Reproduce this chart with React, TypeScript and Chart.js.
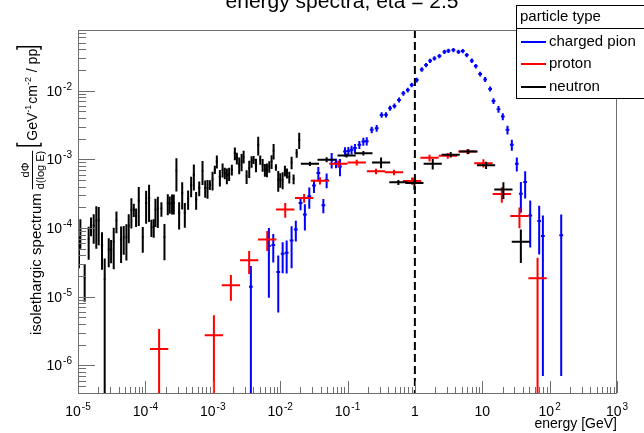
import React, { useEffect, useRef } from "react";
import { Chart, registerables } from "chart.js";

Chart.register(...registerables);

const FONT = '"Liberation Sans", Arial, Helvetica, sans-serif';

// ---------- axis ranges / ticks ----------
const X_MIN = 1e-5;
const X_MAX = 1e3;
const Y_MIN = 3.95e-7;
const Y_MAX = 0.0765;
const xTickExponents = [-5, -4, -3, -2, -1, 0, 1, 2, 3];
const yTickExponents = [-6, -5, -4, -3, -2];

// ---------- charged pion ----------
const pionEnergy = [
  3.68e-3, 6.81e-3, 7.91e-3, 9.38e-3, 1.09e-2, 1.25e-2, 1.48e-2, 1.71e-2, 2.01e-2, 2.33e-2,
  2.71e-2, 3.18e-2, 3.69e-2, 4.38e-2, 4.9e-2, 5.82e-2, 6.75e-2, 7.73e-2, 9.18e-2, 0.103,
  0.115, 0.129, 0.15, 0.172, 0.193, 0.229, 0.271, 0.321, 0.373, 0.428,
  0.497, 0.582, 0.675, 0.784, 0.897, 1.067, 1.265, 1.466, 1.683, 1.95,
  2.312, 2.748, 3.148, 3.733, 4.436, 5.14, 5.888, 6.998, 8.017, 9.31,
  11.04, 13.09, 14.69, 17.42, 20.18, 23.71, 27.48, 32.58, 37.41, 43.35,
  51.52, 69.98, 79.43, 148.6,
];
const pionValue = [
  1.39e-5, 5.46e-5, 5.64e-5, 2.29e-5, 4.2e-5, 4.37e-5, 6.59e-5, 9.53e-5, 2.32e-4, 1.57e-4,
  2.9e-4, 4.14e-4, 6.31e-4, 2.14e-4, 5.0e-4, 9.86e-4, 8.83e-4, 7.89e-4, 1.3e-3, 1.32e-3,
  1.38e-3, 1.46e-3, 1.63e-3, 1.82e-3, 1.84e-3, 2.69e-3, 2.84e-3, 4.44e-3, 4.46e-3, 5.55e-3,
  6.0e-3, 7.33e-3, 9.16e-3, 1.02e-2, 1.21e-2, 1.43e-2, 2.04e-2, 2.36e-2, 2.73e-2, 2.95e-2,
  3.19e-2, 3.68e-2, 3.81e-2, 3.9e-2, 3.68e-2, 3.77e-2, 3.3e-2, 2.73e-2, 2.28e-2, 1.75e-2,
  1.46e-2, 1.06e-2, 7.08e-3, 5.36e-3, 4.2e-3, 2.69e-3, 1.63e-3, 8.63e-4, 3.16e-4, 4.68e-4,
  1.52e-4, 1.26e-4, 7.62e-5, 7.87e-5,
];
const pionError = [
  1.4e-5, 4.5e-5, 2.5e-5, 1.7e-5, 2.0e-5, 2.2e-5, 4.0e-5, 3.2e-5, 5.0e-5, 6.5e-5,
  1.0e-4, 9.0e-5, 1.4e-4, 5.0e-5, 1.2e-4, 2.5e-4, 1.4e-4, 2.2e-4, 2.0e-4, 1.9e-4,
  2.0e-4, 2.1e-4, 2.2e-4, 2.4e-4, 2.5e-4, 3.0e-4, 3.1e-4, 4.0e-4, 4.0e-4, 4.6e-4,
  5.0e-4, 6.0e-4, 7.2e-4, 8.0e-4, 9.2e-4, 1.1e-3, 1.5e-3, 1.7e-3, 1.9e-3, 2.1e-3,
  2.3e-3, 2.6e-3, 2.7e-3, 2.8e-3, 2.6e-3, 2.7e-3, 2.4e-3, 2.0e-3, 1.7e-3, 1.4e-3,
  1.2e-3, 9.0e-4, 7.0e-4, 6.0e-4, 5.0e-4, 4.0e-4, 3.0e-4, 2.0e-4, 1.5e-4, 2.0e-4,
  1.0e-4, 8.5e-5, 7.55e-5, 7.8e-5,
];
const pionBinHalfDecades = 0.028;

// ---------- proton ----------
const protonEnergy = [
  1.6e-4, 1.04e-3, 1.86e-3, 3.47e-3, 6.44e-3, 1.19e-2, 2.27e-2, 3.9e-2, 7.31e-2, 0.137,
  0.265, 0.49, 0.91, 1.65, 3.08, 6.03, 10.4, 19.5, 35.7, 66.2,
];
const protonValue = [
  1.73e-6, 2.75e-6, 1.47e-5, 3.38e-5, 6.81e-5, 1.86e-4, 2.73e-4, 4.89e-4, 8.63e-4, 9.0e-4,
  6.68e-4, 6.46e-4, 4.85e-4, 1.05e-3, 1.13e-3, 1.3e-3, 8.8e-4, 3.13e-4, 1.49e-4, 1.85e-5,
];
const protonError = [
  1.65e-6, 2.6e-6, 6.0e-6, 1.25e-5, 2.2e-5, 4.5e-5, 4.0e-5, 6.0e-5, 1.0e-4, 9.0e-5,
  6.0e-5, 6.0e-5, 6.0e-5, 1.2e-4, 1.1e-4, 1.1e-4, 1.2e-4, 8.0e-5, 5.0e-5, 1.85e-5,
];
const protonBinHalfDecades = 0.136;

// ---------- neutron (fine binning at low energy) ----------
const neutronFineEnergy = [
  1.035e-5, 1.084e-5, 1.256e-5, 1.44e-5, 1.56e-5, 1.71e-5, 1.87e-5, 2.03e-5, 2.27e-5, 2.49e-5,
  2.86e-5, 3.1e-5, 3.39e-5, 3.72e-5, 4.36e-5, 4.77e-5, 5.23e-5, 5.66e-5, 6.2e-5, 6.73e-5,
  7.28e-5, 7.98e-5, 9.15e-5, 1.026e-4, 1.135e-4, 1.23e-4, 1.33e-4, 1.41e-4, 1.53e-4, 1.73e-4,
  1.92e-4, 2.15e-4, 2.3e-4, 2.49e-4, 2.64e-4, 2.89e-4, 3.17e-4, 3.52e-4, 3.85e-4, 4.31e-4,
  4.78e-4, 5.24e-4, 5.67e-4, 6.3e-4, 7.05e-4, 7.73e-4, 8.36e-4, 9.06e-4, 9.93e-4, 1.074e-3,
  1.15e-3, 1.276e-3, 1.4e-3, 1.51e-3, 1.62e-3, 1.75e-3, 1.92e-3, 2.13e-3, 2.28e-3, 2.47e-3,
  2.68e-3, 2.87e-3, 3.18e-3, 3.48e-3, 3.77e-3, 4.04e-3, 4.38e-3, 4.73e-3, 5.07e-3, 5.5e-3,
  5.94e-3, 6.37e-3, 6.9e-3, 7.47e-3, 8.0e-3, 8.67e-3, 9.38e-3, 1.005e-2, 1.089e-2, 1.178e-2,
  1.262e-2, 1.368e-2, 1.48e-2, 1.585e-2, 1.76e-2, 1.92e-2,
];
const neutronFineValue = [
  5.15e-5, 9.18e-5, 1.89e-5, 6.95e-5, 1.09e-4, 1.09e-4, 1.29e-4, 1.29e-4, 5.57e-5, 1.79e-5,
  4.87e-5, 4.87e-5, 6.3e-5, 1.29e-4, 6.8e-5, 7.36e-5, 7.36e-5, 1.09e-4, 1.85e-4, 1.85e-4,
  1.48e-4, 2.51e-4, 7.36e-5, 2.32e-4, 2.74e-4, 1.03e-4, 1.03e-4, 1.85e-4, 1.92e-4, 1.92e-4,
  7.4e-5, 2.32e-4, 2.24e-4, 2.32e-4, 2.32e-4, 6.9e-4, 1.66e-4, 3.24e-4, 1.66e-4, 2.68e-4,
  4.18e-4, 5.97e-4, 2.59e-4, 3.83e-4, 6.83e-4, 3.83e-4, 3.83e-4, 4.27e-4, 5.06e-4, 7.07e-4,
  9.33e-4, 5.52e-4, 7.07e-4, 6.32e-4, 5.85e-4, 6.18e-4, 7.07e-4, 1.233e-3, 1.043e-3, 8.34e-4,
  9.33e-4, 1.1e-3, 5.65e-4, 7.46e-4, 9.33e-4, 9.86e-4, 8.34e-4, 1.63e-3, 9.86e-4, 8.34e-4,
  7.07e-4, 7.07e-4, 7.89e-4, 9.33e-4, 1.333e-3, 7.63e-4, 5.06e-4, 5.06e-4, 5.06e-4, 6.83e-4,
  6.32e-4, 5.52e-4, 9.02e-4, 5.17e-4, 1.233e-3, 1.92e-3,
];
const neutronFineError = [
  2.55e-5, 4.2e-5, 1.05e-5, 3.5e-5, 3.3e-5, 5.0e-5, 7.9e-5, 7.3e-5, 3.1e-5, 1.8e-5,
  2.2e-5, 1.8e-5, 3.8e-5, 4.5e-5, 3.7e-5, 3.3e-5, 4.0e-5, 4.9e-5, 8.7e-5, 4.0e-5,
  4.5e-5, 1.44e-4, 3.0e-5, 1.17e-4, 1.52e-4, 2.9e-5, 3.1e-5, 8.2e-5, 9.2e-5, 4.6e-5,
  4.0e-5, 7.9e-5, 6.3e-5, 7.5e-5, 7.5e-5, 3.5e-4, 7.1e-5, 1.38e-4, 6.5e-5, 8.4e-5,
  1.38e-4, 2.46e-4, 7.5e-5, 9.4e-5, 2.6e-4, 1.08e-4, 1.16e-4, 6.8e-5, 1.53e-4, 9.6e-5,
  2.0e-4, 1.5e-4, 1.64e-4, 1.2e-4, 1.5e-4, 1.34e-4, 1.28e-4, 2.6e-4, 2.0e-4, 2.3e-4,
  2.6e-4, 2.3e-4, 1.28e-4, 2.1e-4, 1.77e-4, 1.33e-4, 1.86e-4, 4.95e-4, 1.55e-4, 1.77e-4,
  1.5e-4, 1.6e-4, 1.5e-4, 2.1e-4, 3.4e-4, 8.3e-5, 1.7e-4, 1.2e-4, 1.4e-4, 1.2e-4,
  1.05e-4, 1.08e-4, 1.86e-4, 8.5e-5, 1.8e-4, 5.1e-4,
];
const neutronFineBinHalfDecades = 0.017;

// ---------- neutron (coarse binning) ----------
const neutronCoarseEnergy = [
  2.77e-2, 4.9e-2, 9.7e-2, 0.172, 0.315, 0.569, 0.984, 1.84, 3.4, 6.24, 11.4, 20.6, 37.4,
];
const neutronCoarseValue = [
  8.6e-4, 9.9e-4, 1.14e-3, 1.23e-3, 9.0e-4, 4.62e-4, 4.52e-4, 8.6e-4, 1.17e-3, 1.3e-3, 8.2e-4,
  3.65e-4, 6.3e-5,
];
const neutronCoarseError = [
  6.0e-5, 8.0e-5, 8.0e-5, 9.0e-5, 1.6e-4, 4.0e-5, 9.0e-5, 1.5e-4, 1.1e-4, 1.0e-4, 1.0e-4,
  1.0e-4, 3.2e-5,
];
const neutronCoarseBinHalfDecades = 0.135;

const legendEntries = [
  { label: "charged pion", color: "#0000ff" },
  { label: "proton", color: "#ff0000" },
  { label: "neutron", color: "#000000" },
];

function makeDataset(
  label: string,
  energy: number[],
  value: number[],
  error: number[],
  color: string,
  halfDecades: number
) {
  return {
    label,
    data: energy.map((e, i) => ({ x: e, y: value[i], err: error[i] })),
    borderColor: color,
    backgroundColor: color,
    pointRadius: 0,
    pointHoverRadius: 0,
    showLine: false,
    binHalfDecades: halfDecades,
  } as any;
}

function drawPow(
  ctx: CanvasRenderingContext2D,
  exp: number,
  x: number,
  y: number,
  align: "center" | "right"
) {
  const big = `14px ${FONT}`;
  const small = `10px ${FONT}`;
  ctx.textAlign = "left";
  ctx.textBaseline = "alphabetic";
  if (exp === 0 || exp === 1) {
    const txt = exp === 0 ? "1" : "10";
    ctx.font = big;
    const w = ctx.measureText(txt).width;
    const sx = align === "center" ? x - w / 2 : x - w;
    ctx.fillText(txt, sx, y);
    return;
  }
  ctx.font = big;
  const w1 = ctx.measureText("10").width;
  ctx.font = small;
  const sup = String(exp);
  const w2 = ctx.measureText(sup).width;
  const total = w1 + 1 + w2;
  const sx = align === "center" ? x - total / 2 : x - total;
  ctx.font = big;
  ctx.fillText("10", sx, y);
  ctx.font = small;
  ctx.fillText(sup, sx + w1 + 1, y - 6);
}

const errorBarPlugin = {
  id: "errorBars",
  afterDatasetsDraw(chart: any) {
    const { ctx, chartArea } = chart;
    const xs = chart.scales.x;
    const ys = chart.scales.y;
    ctx.save();
    ctx.beginPath();
    ctx.rect(chartArea.left, chartArea.top, chartArea.right - chartArea.left, chartArea.bottom - chartArea.top);
    ctx.clip();
    ctx.lineWidth = 2;
    ctx.lineCap = "butt";
    chart.data.datasets.forEach((ds: any) => {
      const f = Math.pow(10, ds.binHalfDecades);
      ctx.strokeStyle = ds.borderColor;
      ds.data.forEach((p: any) => {
        const px = xs.getPixelForValue(p.x);
        const xl = xs.getPixelForValue(p.x / f);
        const xr = xs.getPixelForValue(p.x * f);
        const py = ys.getPixelForValue(p.y);
        const lo = p.y - p.err;
        const yl = lo > 0 ? ys.getPixelForValue(lo) : chartArea.bottom + 10;
        const yh = ys.getPixelForValue(p.y + p.err);
        ctx.beginPath();
        ctx.moveTo(xl, py);
        ctx.lineTo(xr, py);
        ctx.moveTo(px, yh);
        ctx.lineTo(px, yl);
        ctx.stroke();
      });
    });
    ctx.restore();
  },
  afterDraw(chart: any) {
    const { ctx, chartArea } = chart;
    const xs = chart.scales.x;
    const ys = chart.scales.y;
    const L = chartArea.left;
    const R = chartArea.right;
    const T = chartArea.top;
    const B = chartArea.bottom;

    // dashed line at 1 GeV
    ctx.save();
    ctx.strokeStyle = "#000";
    ctx.lineWidth = 2;
    ctx.setLineDash([8, 4]);
    const x1 = xs.getPixelForValue(1);
    ctx.beginPath();
    ctx.moveTo(x1, T);
    ctx.lineTo(x1, B);
    ctx.stroke();
    ctx.restore();

    // frame
    ctx.save();
    ctx.strokeStyle = "#6e6e6e";
    ctx.lineWidth = 1;
    ctx.strokeRect(L + 0.5, T + 0.5, R - L - 1, B - T);
    ctx.beginPath();
    for (let e = -5; e <= 3; e++) {
      for (let m = 1; m <= 9; m++) {
        const v = m * Math.pow(10, e);
        if (v < X_MIN || v > X_MAX) continue;
        const px = Math.round(xs.getPixelForValue(v)) + 0.5;
        const len = m === 1 ? 12 : 6;
        ctx.moveTo(px, B);
        ctx.lineTo(px, B - len);
      }
    }
    for (let e = -7; e <= -1; e++) {
      for (let m = 1; m <= 9; m++) {
        const v = m * Math.pow(10, e);
        if (v < Y_MIN || v > Y_MAX) continue;
        const py = Math.round(ys.getPixelForValue(v)) + 0.5;
        const len = m === 1 ? 17 : 8;
        ctx.moveTo(L, py);
        ctx.lineTo(L + len, py);
      }
    }
    ctx.stroke();
    ctx.restore();

    // tick labels
    ctx.save();
    ctx.fillStyle = "#000";
    xTickExponents.forEach((e) => {
      drawPow(ctx, e, xs.getPixelForValue(Math.pow(10, e)), B + 23, "center");
    });
    yTickExponents.forEach((e) => {
      drawPow(ctx, e, L - 6, ys.getPixelForValue(Math.pow(10, e)) + 5, "right");
    });

    // x title
    ctx.font = `14px ${FONT}`;
    ctx.textAlign = "right";
    ctx.textBaseline = "alphabetic";
    ctx.fillText("energy [GeV]", R, 428);

    // main title (partly outside the canvas top, as in the reference)
    ctx.font = `21px ${FONT}`;
    ctx.textAlign = "center";
    ctx.fillText("energy spectra, eta = 2.5", 342, 8);
    ctx.restore();

    // y title (rotated)
    ctx.save();
    ctx.fillStyle = "#000";
    ctx.strokeStyle = "#000";
    ctx.rotate(-Math.PI / 2);
    ctx.textAlign = "left";
    ctx.textBaseline = "alphabetic";
    let u = -335;
    ctx.font = `15px ${FONT}`;
    const main = "isolethargic spectrum";
    ctx.fillText(main, u, 41);
    u += ctx.measureText(main).width + 4;
    ctx.font = `11px ${FONT}`;
    const num = "dΦ";
    const den = "d(log E)";
    const wn = ctx.measureText(num).width;
    const wd = ctx.measureText(den).width;
    const wf = Math.max(wn, wd);
    ctx.fillText(num, u + (wf - wn) / 2, 29);
    ctx.fillText(den, u + (wf - wd) / 2, 44);
    ctx.lineWidth = 1;
    ctx.beginPath();
    ctx.moveTo(u, 32.5);
    ctx.lineTo(u + wf, 32.5);
    ctx.stroke();
    u += wf + 4;
    // left bracket
    ctx.lineWidth = 1.5;
    ctx.beginPath();
    ctx.moveTo(u + 4, 17);
    ctx.lineTo(u + 1, 17);
    ctx.lineTo(u + 1, 41);
    ctx.lineTo(u + 4, 41);
    ctx.stroke();
    u += 6;
    const parts: [string, boolean][] = [
      ["GeV", false],
      ["-1", true],
      ["cm", false],
      ["-2", true],
      [" / pp", false],
    ];
    parts.forEach(([t, sup]) => {
      ctx.font = sup ? `9px ${FONT}` : `14px ${FONT}`;
      ctx.fillText(t, u, sup ? 31 : 37);
      u += ctx.measureText(t).width + (sup ? 1 : 0);
    });
    u += 2;
    ctx.beginPath();
    ctx.moveTo(u - 3, 17);
    ctx.lineTo(u, 17);
    ctx.lineTo(u, 41);
    ctx.lineTo(u - 3, 41);
    ctx.stroke();
    ctx.restore();

    // legend
    ctx.save();
    ctx.fillStyle = "#fff";
    ctx.fillRect(516, 5, 140, 93);
    ctx.strokeStyle = "#000";
    ctx.lineWidth = 1;
    ctx.strokeRect(516.5, 5.5, 140, 93);
    ctx.beginPath();
    ctx.moveTo(516, 28.5);
    ctx.lineTo(644, 28.5);
    ctx.stroke();
    ctx.fillStyle = "#000";
    ctx.font = `15px ${FONT}`;
    ctx.textAlign = "left";
    ctx.textBaseline = "middle";
    ctx.fillText("particle type", 520, 17);
    const rowY = [42, 64, 87];
    legendEntries.forEach((en, i) => {
      ctx.strokeStyle = en.color;
      ctx.lineWidth = 2;
      ctx.beginPath();
      ctx.moveTo(521, rowY[i]);
      ctx.lineTo(546, rowY[i]);
      ctx.stroke();
      ctx.fillStyle = "#000";
      ctx.fillText(en.label, 549, rowY[i]);
    });
    ctx.restore();
  },
};

export default function App() {
  const canvasRef = useRef<HTMLCanvasElement | null>(null);

  useEffect(() => {
    const canvas = canvasRef.current;
    if (!canvas) return;
    const chart = new Chart(canvas, {
      type: "scatter",
      data: {
        datasets: [
          makeDataset("neutron", neutronFineEnergy, neutronFineValue, neutronFineError, "#000000", neutronFineBinHalfDecades),
          makeDataset("charged pion", pionEnergy, pionValue, pionError, "#0000ff", pionBinHalfDecades),
          makeDataset("proton", protonEnergy, protonValue, protonError, "#ff0000", protonBinHalfDecades),
          makeDataset("neutron", neutronCoarseEnergy, neutronCoarseValue, neutronCoarseError, "#000000", neutronCoarseBinHalfDecades),
        ],
      },
      options: {
        animation: false,
        responsive: false,
        devicePixelRatio: 1,
        events: [],
        layout: { padding: { left: 78, right: 27, top: 30, bottom: 40 } },
        plugins: {
          legend: { display: false },
          title: { display: false },
          tooltip: { enabled: false },
        },
        scales: {
          x: { type: "logarithmic", min: X_MIN, max: X_MAX, display: false },
          y: { type: "logarithmic", min: Y_MIN, max: Y_MAX, display: false },
        },
      } as any,
      plugins: [errorBarPlugin],
    });
    return () => chart.destroy();
  }, []);

  return (
    <div style={{ position: "fixed", left: 0, top: 0, width: 644, height: 433, background: "#fff" }}>
      <canvas ref={canvasRef} width={644} height={433} style={{ display: "block" }} />
    </div>
  );
}
